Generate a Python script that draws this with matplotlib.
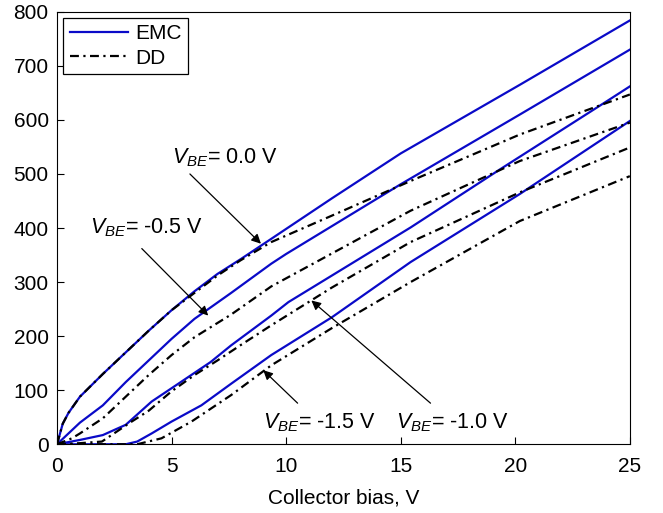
import matplotlib

matplotlib.use("Agg")

import matplotlib.pyplot as plt

plt.rcParams["font.family"] = ["Liberation Sans", "DejaVu Sans"]
plt.rcParams["mathtext.fontset"] = "custom"
plt.rcParams["mathtext.rm"] = "Liberation Sans"
plt.rcParams["mathtext.it"] = "Liberation Sans:italic"

# collector bias (V) and current, one pair per curve
emc_00_x = [0, 0.25, 0.5, 1, 2, 3, 4, 5, 6, 7, 8, 9.35, 12, 15, 20.2, 25]
emc_00_y = [0, 38, 58, 88, 130, 170, 210, 248, 283, 315, 342, 380, 455, 538, 665, 784]
emc_05_x = [0, 0.5, 1, 2, 3, 4, 5, 6, 7, 7.6, 9.35, 10, 15, 20.2, 25]
emc_05_y = [0, 20, 40, 72, 115, 155, 195, 232, 262, 280, 334, 352, 481, 610, 730]
emc_10_x = [0, 1, 2, 3, 4.13, 5.4, 6.7, 7.6, 9.35, 10.1, 15.43, 19.35, 23.9, 25]
emc_10_y = [0, 8, 17, 36, 79, 115, 152, 183, 238, 263, 401, 509, 632, 662]
emc_15_x = [0, 3, 3.5, 4.13, 5, 6.3, 7.6, 9.35, 12, 15.43, 20.2, 25]
emc_15_y = [0, 0, 5, 20, 42, 72, 112, 165, 235, 337, 463, 598]

dd_00_x = [0, 0.25, 0.5, 1, 2, 3, 4, 5, 6, 7, 8, 9.35, 12, 15.43, 20.2, 25]
dd_00_y = [0, 38, 58, 88, 130, 170, 210, 248, 280, 312, 340, 374, 423, 487, 573, 647]
dd_05_x = [0, 0.65, 1, 2, 3, 4, 5, 6, 7.6, 9.35, 15.43, 20.2, 25]
dd_05_y = [0, 11, 20, 48, 88, 128, 165, 198, 240, 292, 432, 524, 595]
dd_10_x = [0, 1, 1.96, 3.26, 4, 5, 6, 7, 8, 9.35, 12, 15.43, 20.2, 25]
dd_10_y = [0, 2, 5, 42, 62, 98, 128, 155, 183, 220, 290, 374, 466, 549]
dd_15_x = [0, 3.5, 4.56, 5.87, 7.6, 9.35, 12, 15.43, 20.2, 25]
dd_15_y = [0, 0, 11, 42, 91, 146, 215, 300, 413, 496]

labels = [r"$V_{BE}$= 0.0 V", r"$V_{BE}$= -0.5 V", r"$V_{BE}$= -1.0 V", r"$V_{BE}$= -1.5 V"]
label_pos = [(5.0, 531), (1.45, 400), (14.8, 40), (9.0, 40)]
arrow_tip = [(8.9, 371), (6.6, 238), (11.1, 266), (9.0, 137)]
arrow_tail = [(5.8, 500), (3.7, 362), (16.3, 76), (10.5, 76)]

x_ticks = [0, 5, 10, 15, 20, 25]
y_ticks = [0, 100, 200, 300, 400, 500, 600, 700, 800]

BLUE = "#0a0ac8"

fig = plt.figure(figsize=(6.63, 5.13), dpi=100)
ax = fig.add_axes([0.086, 0.134, 0.864, 0.843])

emc = [(emc_00_x, emc_00_y), (emc_05_x, emc_05_y), (emc_10_x, emc_10_y), (emc_15_x, emc_15_y)]
dd = [(dd_00_x, dd_00_y), (dd_05_x, dd_05_y), (dd_10_x, dd_10_y), (dd_15_x, dd_15_y)]

for i, (xs, ys) in enumerate(emc):
    ax.plot(xs, ys, color=BLUE, linewidth=1.6, label="EMC" if i == 0 else None)
for i, (xs, ys) in enumerate(dd):
    ax.plot(xs, ys, color="black", linewidth=1.6, linestyle=(0, (4, 2, 1, 2)),
            label="DD" if i == 0 else None)

for text, pos, tip, tail in zip(labels, label_pos, arrow_tip, arrow_tail):
    ax.text(pos[0], pos[1], text, fontsize=15.5, ha="left", va="center")
    ax.annotate("", xy=tip, xytext=tail,
                arrowprops=dict(arrowstyle="-|>", color="black", lw=0.9,
                                mutation_scale=14, shrinkA=0, shrinkB=0))

ax.set_xlim(0, 25)
ax.set_ylim(0, 800)
ax.set_xticks(x_ticks)
ax.set_yticks(y_ticks)
ax.tick_params(direction="in", length=5, labelsize=15, pad=6)
ax.tick_params(axis="x", pad=9)
ax.set_xlabel("Collector bias, V", fontsize=15, labelpad=9)

leg = ax.legend(loc="upper left", fontsize=15, fancybox=False, framealpha=1,
                edgecolor="black", handlelength=2.8, borderpad=0.3,
                labelspacing=0.25, borderaxespad=0.3, handletextpad=0.35)
leg.get_frame().set_linewidth(0.9)

fig.savefig("out.png", dpi=100)
